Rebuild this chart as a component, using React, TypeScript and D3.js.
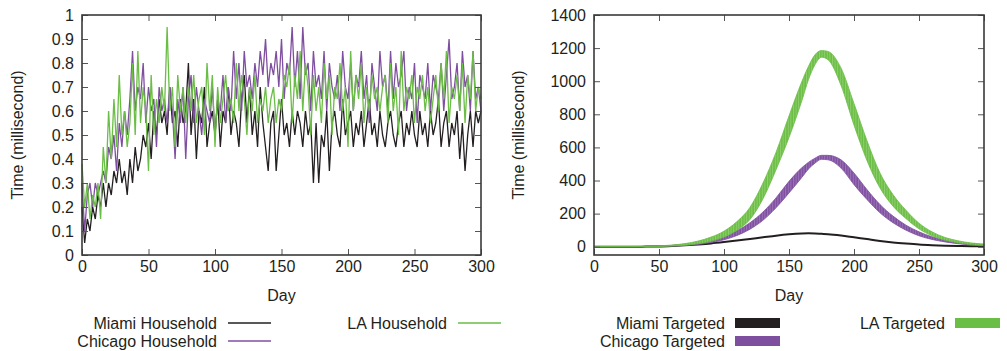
import { useEffect, useRef } from 'react';
import * as d3 from 'd3';

// Household panel: one value every 2 days (day 0..300)
const householdDays = d3.range(0, 301, 2);

const miamiHousehold = [
  0.2, 0.05, 0.15, 0.1, 0.2, 0.15, 0.25, 0.2,
  0.3, 0.2, 0.3, 0.25, 0.35, 0.3, 0.4, 0.3,
  0.35, 0.25, 0.4, 0.3, 0.45, 0.35, 0.4, 0.5,
  0.45, 0.55, 0.4, 0.6, 0.5, 0.65, 0.55, 0.6,
  0.5, 0.7, 0.55, 0.6, 0.45, 0.65, 0.55, 0.6,
  0.8, 0.5, 0.65, 0.4, 0.6, 0.55, 0.7, 0.45,
  0.55, 0.6, 0.5, 0.65, 0.45, 0.6, 0.55, 0.7,
  0.5, 0.6, 0.55, 0.45, 0.65, 0.75, 0.55, 0.7,
  0.5, 0.6, 0.45, 0.7, 0.55, 0.45, 0.35, 0.55,
  0.6, 0.35, 0.5, 0.65, 0.5, 0.55, 0.45, 0.6,
  0.5, 0.6, 0.55, 0.45, 0.6, 0.5, 0.55, 0.3,
  0.55, 0.3, 0.5, 0.45, 0.6, 0.35, 0.55, 0.6,
  0.5, 0.45, 0.65, 0.5, 0.55, 0.6, 0.45, 0.55,
  0.5, 0.6, 0.45, 0.55, 0.65, 0.5, 0.55, 0.45,
  0.6, 0.5, 0.45, 0.55, 0.6, 0.5, 0.45, 0.55,
  0.6, 0.45, 0.55, 0.5, 0.6, 0.5, 0.45, 0.6,
  0.5, 0.55, 0.45, 0.6, 0.5, 0.55, 0.65, 0.45,
  0.55, 0.6, 0.45, 0.55, 0.5, 0.6, 0.4, 0.55,
  0.35, 0.5, 0.6, 0.45, 0.6, 0.55, 0.6,
];

const chicagoHousehold = [
  0.3, 0.1, 0.25, 0.3, 0.2, 0.3, 0.25, 0.3,
  0.35, 0.3, 0.45, 0.4, 0.5, 0.35, 0.55, 0.45,
  0.6, 0.5, 0.65, 0.85, 0.6, 0.7, 0.65, 0.8,
  0.55, 0.7, 0.6, 0.65, 0.45, 0.7, 0.6, 0.65,
  0.55, 0.7, 0.6, 0.4, 0.65, 0.55, 0.7, 0.4,
  0.65, 0.75, 0.55, 0.7, 0.6, 0.5, 0.65, 0.6,
  0.55, 0.7, 0.5, 0.65, 0.6, 0.75, 0.55, 0.7,
  0.6, 0.85, 0.65, 0.8, 0.6, 0.85, 0.7, 0.75,
  0.65, 0.8, 0.7, 0.85, 0.75, 0.9, 0.7, 0.8,
  0.75, 0.85, 0.7, 0.9, 0.65, 0.8, 0.75, 0.95,
  0.7, 0.85, 0.65, 0.95, 0.75, 0.8, 0.6, 0.85,
  0.7, 0.75, 0.65, 0.85, 0.6, 0.8, 0.7, 0.65,
  0.75, 0.6, 0.85, 0.7, 0.65, 0.8, 0.6, 0.75,
  0.7, 0.85, 0.65, 0.75, 0.55, 0.8, 0.7, 0.6,
  0.85, 0.7, 0.75, 0.6, 0.85, 0.65, 0.8, 0.7,
  0.75, 0.85, 0.6, 0.7, 0.65, 0.8, 0.55, 0.75,
  0.7, 0.65, 0.8, 0.6, 0.75, 0.7, 0.65, 0.8,
  0.6, 0.75, 0.9, 0.65, 0.7, 0.8, 0.6, 0.85,
  0.7, 0.75, 0.6, 0.85, 0.65, 0.7, 0.6,
];

const laHousehold = [
  0.38, 0.2, 0.3, 0.15, 0.25, 0.2, 0.3, 0.15,
  0.45, 0.3, 0.6, 0.4, 0.65, 0.45, 0.75, 0.5,
  0.6, 0.45, 0.55, 0.8, 0.5, 0.85, 0.55, 0.7,
  0.6, 0.35, 0.75, 0.5, 0.65, 0.55, 0.7, 0.6,
  0.95, 0.6, 0.7, 0.45, 0.75, 0.6, 0.7, 0.55,
  0.7, 0.6, 0.75, 0.55, 0.65, 0.7, 0.5, 0.8,
  0.6, 0.75, 0.45, 0.7, 0.55, 0.65, 0.75, 0.6,
  0.65, 0.55, 0.8, 0.6, 0.75, 0.65, 0.5, 0.7,
  0.6, 0.75, 0.55, 0.65, 0.6, 0.7, 0.55, 0.65,
  0.7, 0.55, 0.65, 0.6, 0.75, 0.7, 0.8, 0.55,
  0.75, 0.65, 0.85, 0.6, 0.8, 0.7, 0.5, 0.75,
  0.6, 0.7, 0.55, 0.8, 0.65, 0.75, 0.5, 0.7,
  0.65, 0.8, 0.6, 0.7, 0.45, 0.85, 0.6, 0.75,
  0.65, 0.8, 0.55, 0.7, 0.6, 0.75, 0.65, 0.7,
  0.6, 0.7, 0.75, 0.55, 0.8, 0.6, 0.7, 0.5,
  0.85, 0.6, 0.7, 0.65, 0.75, 0.55, 0.7, 0.65,
  0.75, 0.6, 0.7, 0.55, 0.65, 0.75, 0.6, 0.8,
  0.65, 0.85, 0.55, 0.7, 0.65, 0.75, 0.6, 0.8,
  0.55, 0.75, 0.65, 0.85, 0.6, 0.7, 0.65,
];

// Targeted panel: band (low..high) per sampled day
const targetDays = [0, 10, 20, 30, 40, 50, 60, 70, 80, 90, 100, 110, 120, 130, 140, 150, 160, 165, 170, 175, 180, 190, 200, 210, 220, 230, 240, 250, 260, 270, 280, 290, 300];
const miamiTargeted = [0, 0, 0, 0, 1, 2, 5, 9, 14, 20, 28, 37, 47, 57, 67, 75, 80, 81, 80, 78, 76, 68, 57, 46, 35, 26, 19, 13, 9, 6, 4, 3, 2];
const chicagoTargetedLow = [0, 0, 0, 0, 0, 1, 4, 8, 14, 25, 42, 68, 106, 160, 235, 325, 420, 470, 505, 528, 525, 475, 375, 285, 205, 145, 100, 66, 44, 29, 18, 11, 7];
const chicagoTargetedHigh = [1, 1, 1, 1, 2, 5, 8, 14, 24, 40, 63, 97, 145, 210, 295, 395, 478, 510, 535, 552, 552, 525, 445, 345, 255, 185, 130, 90, 60, 41, 28, 19, 13];
const laTargetedLow = [0, 0, 0, 0, 0, 1, 4, 9, 18, 33, 58, 100, 165, 290, 465, 660, 885, 1010, 1100, 1145, 1130, 975, 735, 520, 355, 245, 170, 108, 66, 40, 24, 13, 8];
const laTargetedHigh = [1, 1, 1, 1, 2, 5, 10, 19, 34, 58, 94, 152, 238, 385, 570, 790, 1000, 1090, 1160, 1185, 1180, 1080, 865, 640, 445, 315, 220, 142, 90, 56, 36, 23, 16];

const xTicks = [0, 50, 100, 150, 200, 250, 300];
const leftYTicks = [0, 0.1, 0.2, 0.3, 0.4, 0.5, 0.6, 0.7, 0.8, 0.9, 1];
const rightYTicks = [0, 200, 400, 600, 800, 1000, 1200, 1400];

const householdLabels = ['Miami Household', 'Chicago Household', 'LA Household'];
const targetedLabels = ['Miami Targeted', 'Chicago Targeted', 'LA Targeted'];

const colors = ['#231f20', '#7f4f9f', '#6abd45'];
const lightColors = ['#555', '#9c74b9', '#8fd06e'];
const FONT = '"Liberation Sans", Arial, sans-serif';

const App = () => {
  const ref = useRef<SVGSVGElement>(null);

  useEffect(() => {
    const svg = d3.select(ref.current);
    svg.selectAll('*').remove();

    const top = 15, bottom = 255;

    // stripe patterns for the targeted bands
    const defs = svg.append('defs');
    [1, 2].forEach(i => {
      const p = defs.append('pattern')
        .attr('id', `stripe${i}`)
        .attr('patternUnits', 'userSpaceOnUse')
        .attr('width', 2.6)
        .attr('height', 10);
      p.append('rect').attr('width', 2.6).attr('height', 10).attr('fill', colors[i]);
      p.append('rect').attr('width', 1).attr('height', 10).attr('fill', lightColors[i]);
    });

    const drawFrame = (x, y, yTicks, fmt, left, right, yLabelX) => {
      const g = svg.append('g').style('font-family', FONT);

      g.append('g')
        .attr('transform', `translate(0,${bottom})`)
        .call(d3.axisBottom(x).tickValues(xTicks).tickSize(-6).tickPadding(6).tickFormat(d3.format('d')))
        .call(a => a.select('.domain').remove());
      g.append('g')
        .attr('transform', `translate(0,${top})`)
        .call(d3.axisTop(x).tickValues(xTicks).tickSize(-6).tickFormat(() => ''))
        .call(a => a.select('.domain').remove());
      g.append('g')
        .attr('transform', `translate(${left},0)`)
        .call(d3.axisLeft(y).tickValues(yTicks).tickSize(-6).tickPadding(8).tickFormat(fmt))
        .call(a => a.select('.domain').remove());
      g.append('g')
        .attr('transform', `translate(${right},0)`)
        .call(d3.axisRight(y).tickValues(yTicks).tickSize(-6).tickFormat(() => ''))
        .call(a => a.select('.domain').remove());

      g.selectAll('.tick line').attr('stroke', '#555').attr('stroke-width', 1);
      g.selectAll('.tick text')
        .style('font-size', '16px')
        .style('font-family', FONT)
        .attr('fill', '#231f20');

      g.append('rect')
        .attr('x', left)
        .attr('y', top)
        .attr('width', right - left)
        .attr('height', bottom - top)
        .attr('fill', 'none')
        .attr('stroke', '#3a3a3a')
        .attr('stroke-width', 1.6);

      g.append('text')
        .attr('transform', `translate(${yLabelX},${(top + bottom) / 2}) rotate(-90)`)
        .attr('text-anchor', 'middle')
        .attr('dy', '0.35em')
        .style('font-size', '16px')
        .attr('fill', '#231f20')
        .text('Time (millisecond)');

      g.append('text')
        .attr('x', (left + right) / 2)
        .attr('y', 301)
        .attr('text-anchor', 'middle')
        .style('font-size', '16px')
        .attr('fill', '#231f20')
        .text('Day');
    };

    // ---- Left panel: household ----
    const xL = d3.scaleLinear().domain([0, 300]).range([82, 481]);
    const yL = d3.scaleLinear().domain([0, 1]).range([bottom, top]);

    const lineL = d3.line<number>()
      .x((_, i) => xL(householdDays[i]))
      .y(d => yL(d));

    [miamiHousehold, chicagoHousehold, laHousehold].forEach((series, i) => {
      svg.append('path')
        .attr('d', lineL(series))
        .attr('fill', 'none')
        .attr('stroke', colors[i])
        .attr('stroke-width', 1.3)
        .attr('stroke-linejoin', 'miter');
    });

    drawFrame(xL, yL, leftYTicks, d => String(+(+d).toFixed(1)), 82, 481, 17);

    // ---- Right panel: targeted ----
    const xR = d3.scaleLinear().domain([0, 300]).range([594, 984]);
    const yR = d3.scaleLinear().domain([-50, 1400]).range([bottom, top]);

    const lineR = d3.line<number>()
      .x((_, i) => xR(targetDays[i]))
      .y(d => yR(d))
      .curve(d3.curveMonotoneX);

    svg.append('path')
      .attr('d', lineR(miamiTargeted))
      .attr('fill', 'none')
      .attr('stroke', colors[0])
      .attr('stroke-width', 2);

    [[chicagoTargetedLow, chicagoTargetedHigh, 1], [laTargetedLow, laTargetedHigh, 2]].forEach(([lo, hi, ci]) => {
      const low = lo as number[], high = hi as number[], c = ci as number;
      const area = d3.area<number>()
        .x((_, i) => xR(targetDays[i]))
        .y0((_, i) => yR(low[i]))
        .y1((_, i) => yR(high[i]))
        .curve(d3.curveMonotoneX);
      svg.append('path')
        .attr('d', area(low))
        .attr('fill', `url(#stripe${c})`)
        .attr('stroke', colors[c])
        .attr('stroke-width', 0.8);
    });

    drawFrame(xR, yR, rightYTicks, d3.format('d'), 594, 984, 518);

    // ---- Legends ----
    const legend = svg.append('g').style('font-family', FONT).style('font-size', '16px');
    const rows = [
      { textEnd: 217, y: 323 }, { textEnd: 217, y: 341 }, { textEnd: 447, y: 323 },
    ];
    householdLabels.forEach((label, i) => {
      const r = rows[i];
      legend.append('text')
        .attr('x', r.textEnd).attr('y', r.y).attr('dy', '0.35em')
        .attr('text-anchor', 'end').attr('fill', '#231f20').text(label);
      legend.append('line')
        .attr('x1', r.textEnd + 11).attr('x2', r.textEnd + 54)
        .attr('y1', r.y).attr('y2', r.y)
        .attr('stroke', colors[i]).attr('stroke-width', 1.3);
    });

    const rowsR = [
      { textEnd: 725, y: 323 }, { textEnd: 725, y: 341 }, { textEnd: 945, y: 323 },
    ];
    targetedLabels.forEach((label, i) => {
      const r = rowsR[i];
      legend.append('text')
        .attr('x', r.textEnd).attr('y', r.y).attr('dy', '0.35em')
        .attr('text-anchor', 'end').attr('fill', '#231f20').text(label);
      legend.append('rect')
        .attr('x', r.textEnd + 10).attr('y', r.y - 5)
        .attr('width', 45).attr('height', 10)
        .attr('fill', colors[i]);
    });
  }, []);

  return (
    <svg ref={ref} width={1007} height={351}
      style={{ position: 'absolute', left: 0, top: 0, background: '#fff' }} />
  );
};

export default App;
